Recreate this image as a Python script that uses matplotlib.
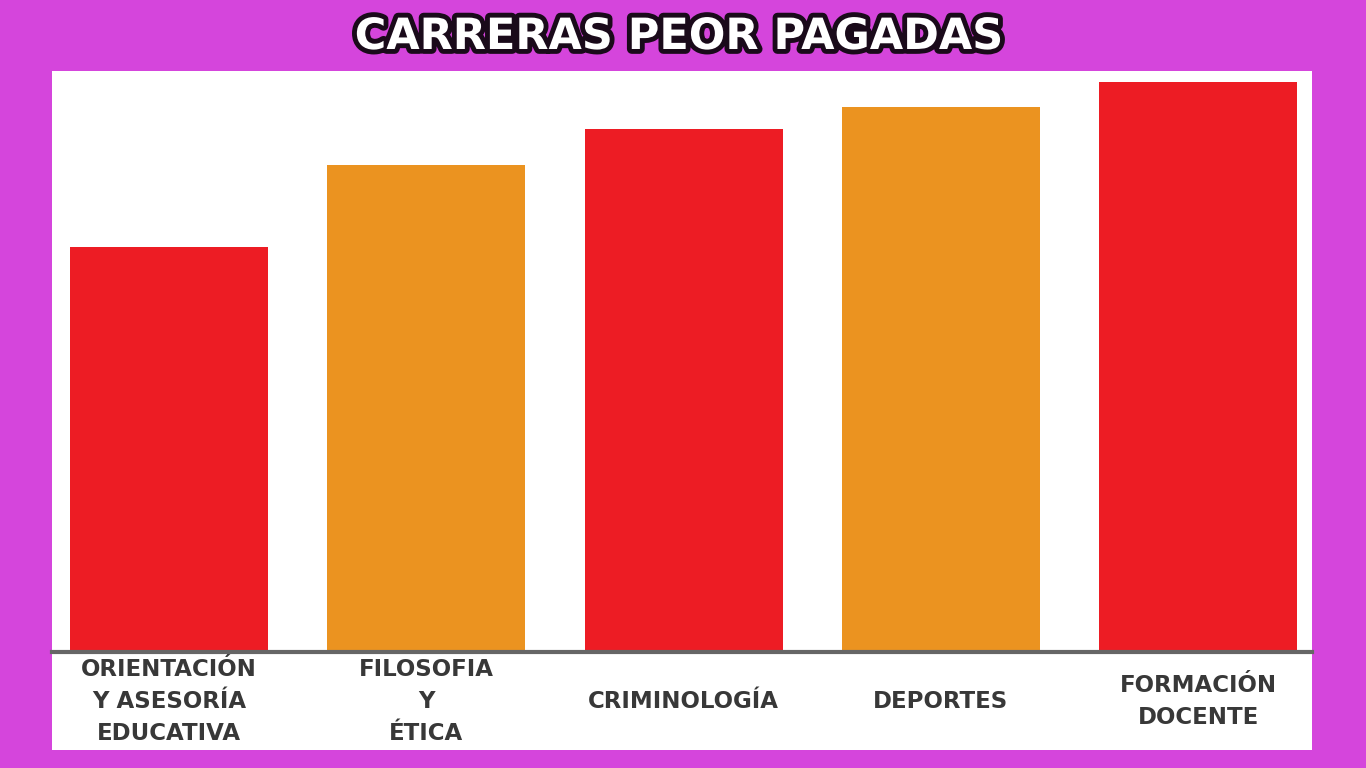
import matplotlib
matplotlib.use("Agg")
import matplotlib.pyplot as plt
import matplotlib.patheffects as pe
from matplotlib.patches import Rectangle

# data (relative bar heights, no axis shown)
carreras = ["ORIENTACIÓN\nY ASESORÍA\nEDUCATIVA", "FILOSOFIA\nY\nÉTICA",
            "CRIMINOLOGÍA", "DEPORTES", "FORMACIÓN\nDOCENTE"]
valores = [402, 484, 519, 541, 566]
colores = ["#ED1C24", "#EB9320", "#ED1C24", "#EB9320", "#ED1C24"]

fig = plt.figure(figsize=(13.66, 7.68), dpi=100)
fig.patch.set_facecolor("#D545DC")

# white panel behind the chart
fig.patches.append(Rectangle((52 / 1366, 1 - 750 / 768), 1260 / 1366, 679 / 768,
                             transform=fig.transFigure, facecolor="white",
                             edgecolor="none", zorder=-5))

ax = fig.add_axes([52 / 1366, 1 - 652 / 768, 1260 / 1366, 581 / 768])
ax.set_facecolor("none")

x = range(len(carreras))
ax.bar(x, valores, width=0.77, color=colores, zorder=2)

ax.set_xlim(-0.455, 4.443)
ax.set_ylim(0, 577)
for s in ["top", "left", "right"]:
    ax.spines[s].set_visible(False)
ax.spines["bottom"].set_color("#666666")
ax.spines["bottom"].set_linewidth(3)
ax.set_yticks([])
ax.set_xticks(list(x))
ax.set_xticklabels(carreras, fontsize=16.5, fontweight="semibold", color="#383838",
                   family="DejaVu Sans", va="center")
for lbl in ax.get_xticklabels():
    lbl.set_linespacing(1.5)
ax.tick_params(axis="x", length=0, pad=36)

fig.text(0.497, 1 - 37 / 768, "CARRERAS PEOR PAGADAS", ha="center", va="center",
         fontsize=31, fontweight="heavy", color="white", family="DejaVu Sans",
         path_effects=[pe.withStroke(linewidth=7, foreground="#1a0a1a")])

fig.savefig("out.png", dpi=100, facecolor=fig.get_facecolor())
